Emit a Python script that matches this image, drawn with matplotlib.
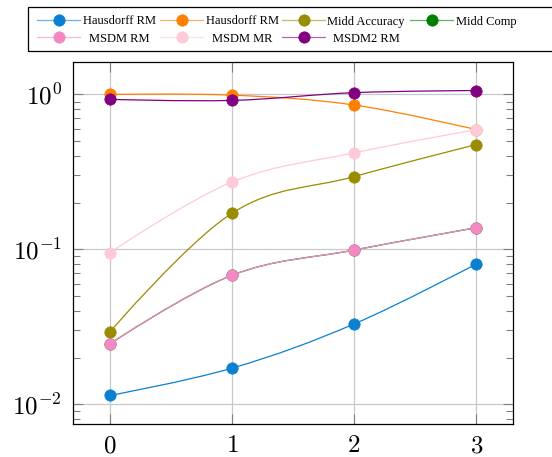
import numpy as np
import matplotlib
matplotlib.use('Agg')
import matplotlib.pyplot as plt
from matplotlib.path import Path
from matplotlib.patches import PathPatch, Rectangle
from matplotlib.lines import Line2D
from matplotlib.ticker import FuncFormatter, LogLocator, FixedLocator

plt.rcParams['mathtext.fontset'] = 'cm'
plt.rcParams['font.family'] = ['Liberation Serif', 'DejaVu Serif']

# Data
x = [0, 1, 2, 3]
hausdorff_rm = [0.0114, 0.0171, 0.033, 0.0805]
hausdorff_rm2 = [1.0, 0.99, 0.855, 0.593]
midd_accuracy = [0.0292, 0.171, 0.295, 0.475]
midd_comp = [0.0245, 0.068, 0.099, 0.138]
msdm_rm = [0.0245, 0.068, 0.099, 0.138]
msdm_mr = [0.095, 0.272, 0.42, 0.593]
msdm2_rm = [0.93, 0.915, 1.027, 1.06]

labels = ['Hausdorff RM', 'Hausdorff RM', 'Midd Accuracy', 'Midd Comp',
          'MSDM RM', 'MSDM MR', 'MSDM2 RM']
series = [hausdorff_rm, hausdorff_rm2, midd_accuracy, midd_comp,
          msdm_rm, msdm_mr, msdm2_rm]
colors = ['#0a80d2', '#ff8000', '#998c00', '#008000',
          '#f588c4', '#ffcad8', '#800080']

x_ticks = [0, 1, 2, 3]
y_ticks = [0.01, 0.1, 1.0]


def smooth_path(xs, ys, tension=0.18):
    # pgfplots-like "smooth" curve, built in (x, log10 y) space
    px = np.asarray(xs, float)
    py = np.log10(np.asarray(ys, float))
    n = len(px)
    tx = np.zeros(n)
    ty = np.zeros(n)
    for i in range(1, n - 1):
        tx[i] = tension * (px[i + 1] - px[i - 1])
        ty[i] = tension * (py[i + 1] - py[i - 1])
    verts = [(px[0], py[0])]
    codes = [Path.MOVETO]
    for i in range(n - 1):
        verts += [(px[i] + tx[i], py[i] + ty[i]),
                  (px[i + 1] - tx[i + 1], py[i + 1] - ty[i + 1]),
                  (px[i + 1], py[i + 1])]
        codes += [Path.CURVE4] * 3
    verts = [(a, 10 ** b) for a, b in verts]
    return Path(verts, codes)


fig = plt.figure(figsize=(5.52, 4.57), dpi=100)
ax = fig.add_axes([73 / 552, 33 / 457, 440 / 552, 362 / 457])
ax.set_yscale('log')

for i, (vals, col) in enumerate(zip(series, colors)):
    patch = PathPatch(smooth_path(x, vals), facecolor='none', edgecolor=col,
                      lw=0.9, zorder=2 + i * 0.1)
    ax.add_patch(patch)
    ax.plot(x, vals, 'o', color=col, ms=8.2, mec=col, mew=0.5, zorder=2.05 + i * 0.1)

ax.set_xlim(-0.3, 3.3)
ax.set_ylim(0.00746, 1.62)

ax.xaxis.set_major_locator(FixedLocator(x_ticks))
ax.xaxis.set_major_formatter(FuncFormatter(lambda v, p: r'$%d$' % v))
ax.yaxis.set_major_locator(FixedLocator(y_ticks))
ax.yaxis.set_minor_locator(LogLocator(base=10, subs=np.arange(2, 10), numticks=20))
ax.yaxis.set_major_formatter(FuncFormatter(lambda v, p: r'$10^{%d}$' % round(np.log10(v))))
ax.yaxis.set_minor_formatter(FuncFormatter(lambda v, p: ''))

ax.tick_params(which='both', direction='in', top=True, right=True,
               color='#808080', labelsize=18)
ax.tick_params(which='major', length=7.5, width=0.8, pad=8)
ax.tick_params(which='minor', length=5, width=0.8)
ax.grid(True, which='major', color='#c8c8c8', lw=0.9, zorder=0)
ax.set_axisbelow(True)
for s in ax.spines.values():
    s.set_linewidth(0.9)

# legend drawn by hand to get centred labels like pgfplots
W, H = 552.0, 457.0
fig.patches.append(Rectangle((28 / W, 1 - 51 / H), 600 / W, 44 / H,
                             transform=fig.transFigure, facecolor='white',
                             edgecolor='black', lw=0.9))
col_line = [37, 160, 282, 410]
col_text = [119, 242, 366, 486]
row_y = [20, 37]
for i, (lab, col) in enumerate(zip(labels, colors)):
    r, c = divmod(i, 4)
    yy = 1 - row_y[r] / H
    x0 = col_line[c]
    fig.lines.append(Line2D([x0 / W, (x0 + 43) / W], [yy, yy], color=col, lw=0.9,
                            alpha=0.6, transform=fig.transFigure))
    fig.lines.append(Line2D([(x0 + 21.5) / W], [yy], marker='o', ms=8.2, color=col,
                            mec=col, mew=0.5, transform=fig.transFigure))
    fig.text(col_text[c] / W, yy, lab, ha='center', va='center_baseline', fontsize=9)

fig.savefig('out.png', dpi=100)
